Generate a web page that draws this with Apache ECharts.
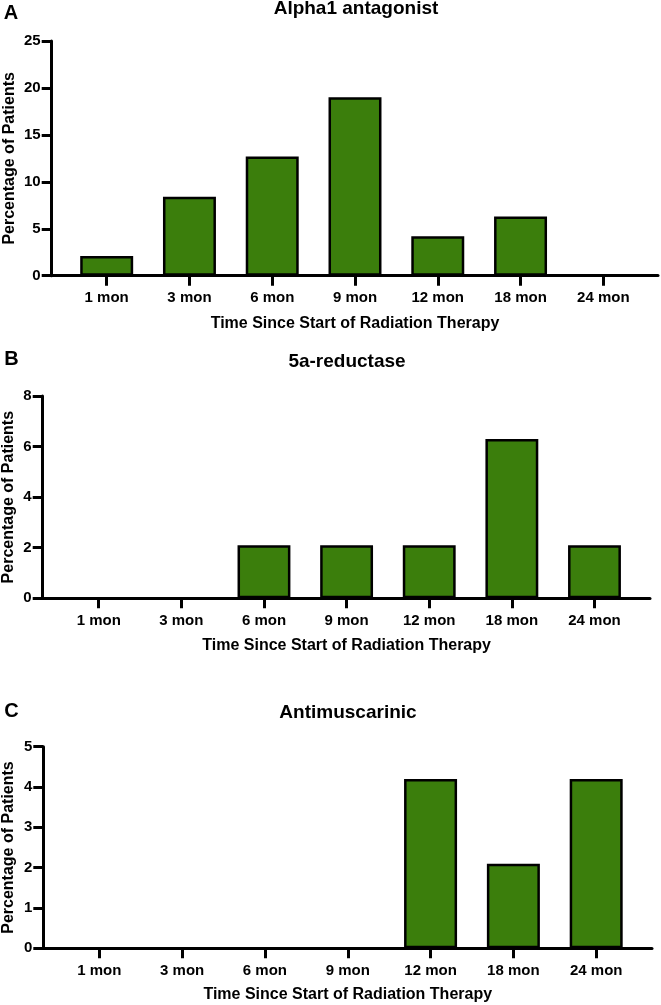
<!DOCTYPE html>
<html>
<head>
<meta charset="utf-8">
<script src="https://cdn.jsdelivr.net/npm/echarts@6/dist/echarts.min.js"></script>
<style>
  html, body { margin: 0; padding: 0; background: #ffffff; }
  #chart { width: 661px; height: 1005px; }
</style>
</head>
<body>
<div id="chart"></div>
<script>
// ---- data ----
const categories = ['1 mon', '3 mon', '6 mon', '9 mon', '12 mon', '18 mon', '24 mon'];
const alpha1Values = [2.1, 8.4, 12.7, 19.0, 4.2, 6.3, 0];
const reductaseValues = [0, 0, 2.1, 2.1, 2.1, 6.3, 2.1];
const antimuscarinicValues = [0, 0, 0, 0, 4.2, 2.1, 4.2];
const panelTitles = ['Alpha1 antagonist', '5a-reductase', 'Antimuscarinic'];
const panelLetters = ['A', 'B', 'C'];
const yMaxes = [25, 8, 5];
const yIntervals = [5, 2, 1];
const xAxisTitle = 'Time Since Start of Radiation Therapy';
const yAxisTitle = 'Percentage of Patients';

// ---- layout (positions/styles only) ----
const FONT = '"Liberation Sans", Arial, Helvetica, sans-serif';
const GREEN = '#3B7E0C';
const layouts = [
  { axisLeft: 51.7, axisRight: 3,  bandLeft: 65.3, bandRight: 16.3, top: 41,    bottom: 729.3, yNameGap: 34.5, xNameGap: 40,
    letter: [11, 13], title: [356, 9.2] },
  { axisLeft: 42.7, axisRight: 11, bandLeft: 57.4, bandRight: 25.2, top: 396,   bottom: 406.7, yNameGap: 25.7, xNameGap: 39,
    letter: [11.5, 359.7], title: [347, 361.7] },
  { axisLeft: 43.3, axisRight: 9,  bandLeft: 57.9, bandRight: 23.4, top: 746.7, bottom: 56.7,  yNameGap: 26.3, xNameGap: 38,
    letter: [11.5, 711.7], title: [348, 712.7] }
];
const seriesValues = [alpha1Values, reductaseValues, antimuscarinicValues];

const grids = [], xAxes = [], yAxes = [], series = [], graphics = [];
const blackLine = { color: '#000', width: 3 };

layouts.forEach((L, i) => {
  const gAxis = grids.length;
  grids.push({ left: L.axisLeft, right: L.axisRight, top: L.top, bottom: L.bottom, containLabel: false, outerBoundsMode: 'none' });
  const gBand = grids.length;
  grids.push({ left: L.bandLeft, right: L.bandRight, top: L.top, bottom: L.bottom, containLabel: false, outerBoundsMode: 'none' });

  // axis frame grid: visible y axis + full-length x axis line
  xAxes.push({
    gridIndex: gAxis, type: 'value', min: 0, max: 1,
    axisLine: { show: true, onZero: false, lineStyle: blackLine },
    axisTick: { show: false }, axisLabel: { show: false }, splitLine: { show: false }
  });
  yAxes.push({
    gridIndex: gAxis, type: 'value', min: 0, max: yMaxes[i], interval: yIntervals[i],
    axisLine: { show: true, onZero: false, lineStyle: blackLine },
    axisTick: { show: true, inside: false, length: 10, lineStyle: blackLine },
    axisLabel: { show: true, margin: 11, color: '#000', fontSize: 15, fontWeight: 'bold', fontFamily: FONT },
    splitLine: { show: false },
    name: yAxisTitle, nameLocation: 'middle', nameRotate: 90, nameGap: L.yNameGap, nameMoveOverlap: false,
    nameTextStyle: { color: '#000', fontSize: 16, fontWeight: 'bold', fontFamily: FONT }
  });

  // band grid: categories + bars
  const xIdx = xAxes.length;
  xAxes.push({
    gridIndex: gBand, type: 'category', data: categories, boundaryGap: true,
    axisLine: { show: false, onZero: false },
    axisTick: { show: true, alignWithLabel: true, inside: false, length: 10, lineStyle: blackLine },
    axisLabel: { show: true, margin: 15, color: '#000', fontSize: 15, fontWeight: 'bold', fontFamily: FONT, interval: 0 },
    splitLine: { show: false },
    name: xAxisTitle, nameLocation: 'middle', nameGap: L.xNameGap, nameMoveOverlap: false,
    nameTextStyle: { color: '#000', fontSize: 16, fontWeight: 'bold', fontFamily: FONT }
  });
  const yIdx = yAxes.length;
  yAxes.push({
    gridIndex: gBand, type: 'value', min: 0, max: yMaxes[i], interval: yIntervals[i], show: false,
    splitLine: { show: false }
  });

  series.push({
    type: 'bar', xAxisIndex: xIdx, yAxisIndex: yIdx, data: seriesValues[i],
    barWidth: '64%',
    itemStyle: { color: GREEN, borderColor: '#000', borderWidth: 2.5 },
    silent: true, animation: false
  });

  graphics.push({
    type: 'text', x: L.letter[0], y: L.letter[1],
    style: { text: panelLetters[i], fill: '#000', font: 'bold 20px ' + FONT,
             textAlign: 'center', textVerticalAlign: 'middle', align: 'center', verticalAlign: 'middle' }
  });
  graphics.push({
    type: 'text', x: L.title[0], y: L.title[1],
    style: { text: panelTitles[i], fill: '#000', font: 'bold 19px ' + FONT,
             textAlign: 'center', textVerticalAlign: 'middle', align: 'center', verticalAlign: 'middle' }
  });
});

const chart = echarts.init(document.getElementById('chart'), null, { renderer: 'canvas' });
chart.setOption({
  backgroundColor: '#ffffff',
  animation: false,
  grid: grids,
  xAxis: xAxes,
  yAxis: yAxes,
  series: series,
  graphic: graphics
});
</script>
</body>
</html>
